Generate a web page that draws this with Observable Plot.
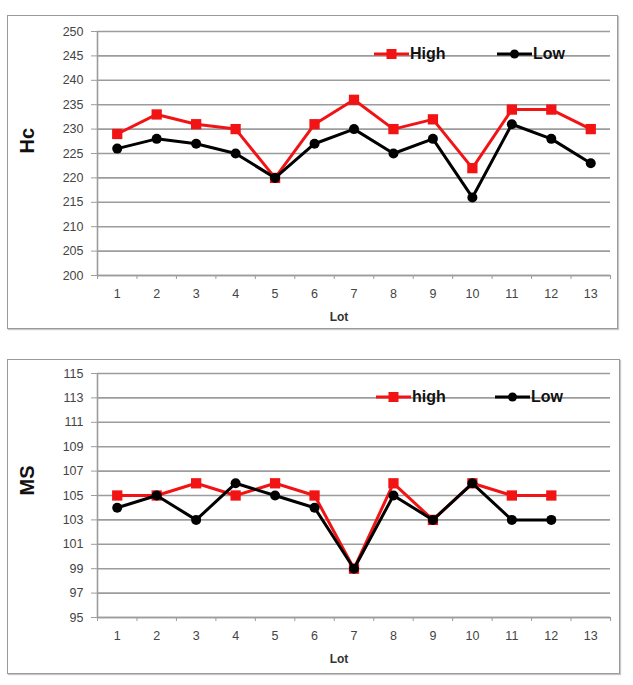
<!DOCTYPE html>
<html>
<head>
<meta charset="utf-8">
<script src="https://cdn.jsdelivr.net/npm/d3@7"></script>
<script src="https://cdn.jsdelivr.net/npm/@observablehq/plot@0.6"></script>
<style>
  html, body { margin: 0; padding: 0; background: #fff; }
  #page { position: relative; width: 633px; height: 685px; overflow: hidden; background: #fff; font-family: "Liberation Sans", Arial, sans-serif; }
  .frame { position: absolute; border: 1.5px solid #9a9a9a; box-shadow: 1px 1px 1px #c8c8c8; box-sizing: border-box; }
  .chart { position: absolute; left: 0; }
  .leg { position: absolute; display: flex; align-items: center; font-weight: bold; font-size: 16px; color: #111; }
  .leg svg { display: block; }
</style>
</head>
<body>
<div id="page"></div>
<script>
// ---- data ----
const lotLabels = [1, 2, 3, 4, 5, 6, 7, 8, 9, 10, 11, 12, 13];

const hcLots = [1, 2, 3, 4, 5, 6, 7, 8, 9, 10, 11, 12, 13];
const hcHigh = [229, 233, 231, 230, 220, 231, 236, 230, 232, 222, 234, 234, 230];
const hcLow  = [226, 228, 227, 225, 220, 227, 230, 225, 228, 216, 231, 228, 223];
const hcTicks = [200, 205, 210, 215, 220, 225, 230, 235, 240, 245, 250];

const msLots = [1, 2, 3, 4, 5, 6, 7, 8, 9, 10, 11, 12];
const msHigh = [105, 105, 106, 105, 106, 105, 99, 106, 103, 106, 105, 105];
const msLow  = [104, 105, 103, 106, 105, 104, 99, 105, 103, 106, 103, 103];
const msTicks = [95, 97, 99, 101, 103, 105, 107, 109, 111, 113, 115];

const seriesNames = {hc: ["High", "Low"], ms: ["high", "Low"]};
const RED = "#f21414";
const BLACK = "#000000";
const GRID = "#9c9c9c";

const page = document.getElementById("page");

function makeChart({lots, high, low, ticks, yLabel}) {
  const boundaries = d3.range(0.5, lotLabels.length + 1, 1);
  const hi = lots.map((l, i) => ({lot: l, v: high[i]}));
  const lo = lots.map((l, i) => ({lot: l, v: low[i]}));
  return Plot.plot({
    width: 633,
    height: 342,
    marginLeft: 97,
    marginRight: 23,
    marginTop: 31,
    marginBottom: 67,
    style: {background: "transparent", fontFamily: "'Liberation Sans', Arial, sans-serif"},
    x: {type: "linear", domain: [0.5, lotLabels.length + 0.5]},
    y: {type: "linear", domain: [ticks[0], ticks[ticks.length - 1]]},
    marks: [
      Plot.gridY(ticks, {stroke: GRID, strokeOpacity: 1, strokeWidth: 1.6}),
      Plot.axisY(ticks, {tickSize: 6, tickPadding: 8, fontSize: 12.5, color: "#444", stroke: GRID, label: null}),
      Plot.axisX(boundaries, {tickSize: 4, tickFormat: () => "", stroke: GRID, label: null}),
      Plot.axisX(lotLabels, {tickSize: 0, tickPadding: 14, fontSize: 12.5, color: "#444", label: null}),
      Plot.ruleX([0.5], {stroke: GRID, strokeWidth: 1.6}),
      Plot.ruleY([ticks[0]], {stroke: GRID, strokeWidth: 1.6}),
      Plot.text(["Lot"], {frameAnchor: "bottom", dy: 45, dx: -15, fontSize: 12, fontWeight: "bold", fill: "#333"}),
      Plot.text([yLabel], {frameAnchor: "left", rotate: -90, dx: -70, fontSize: 20, fontWeight: "bold", fill: "#111"}),
      Plot.line(hi, {x: "lot", y: "v", stroke: RED, strokeWidth: 3}),
      Plot.dot(hi, {x: "lot", y: "v", symbol: "square", r: 5.8, fill: RED, stroke: "none"}),
      Plot.line(lo, {x: "lot", y: "v", stroke: BLACK, strokeWidth: 3}),
      Plot.dot(lo, {x: "lot", y: "v", symbol: "circle", r: 5, fill: BLACK, stroke: "none"})
    ]
  });
}

function addFrame(left, top, right, bottom) {
  const f = document.createElement("div");
  f.className = "frame";
  f.style.left = left + "px";
  f.style.top = top + "px";
  f.style.width = (right - left) + "px";
  f.style.height = (bottom - top) + "px";
  page.appendChild(f);
}

function addLegendItem(x, y, color, marker, label) {
  const d = document.createElement("div");
  d.className = "leg";
  d.style.left = x + "px";
  d.style.top = (y - 10) + "px";
  d.style.height = "20px";
  const ns = "http://www.w3.org/2000/svg";
  const s = document.createElementNS(ns, "svg");
  s.setAttribute("width", 35); s.setAttribute("height", 20);
  const ln = document.createElementNS(ns, "line");
  ln.setAttribute("x1", 0); ln.setAttribute("x2", 35); ln.setAttribute("y1", 10); ln.setAttribute("y2", 10);
  ln.setAttribute("stroke", color); ln.setAttribute("stroke-width", 3);
  s.appendChild(ln);
  let m;
  if (marker === "square") {
    m = document.createElementNS(ns, "rect");
    m.setAttribute("x", 17.5 - 5); m.setAttribute("y", 5); m.setAttribute("width", 10); m.setAttribute("height", 10);
  } else {
    m = document.createElementNS(ns, "circle");
    m.setAttribute("cx", 17.5); m.setAttribute("cy", 10); m.setAttribute("r", 4.5);
  }
  m.setAttribute("fill", color);
  s.appendChild(m);
  d.appendChild(s);
  const t = document.createElement("span");
  t.textContent = label;
  t.style.marginLeft = "1px";
  d.appendChild(t);
  page.appendChild(d);
}

// frames
addFrame(7, 15, 618, 329);
addFrame(7, 359, 620, 674);

// charts
const c1 = makeChart({lots: hcLots, high: hcHigh, low: hcLow, ticks: hcTicks, yLabel: "Hc"});
c1.classList.add("chart"); c1.style.top = "0px";
page.appendChild(c1);

const c2 = makeChart({lots: msLots, high: msHigh, low: msLow, ticks: msTicks, yLabel: "MS"});
c2.classList.add("chart"); c2.style.top = "342px";
page.appendChild(c2);

// legends
addLegendItem(374, 54, RED, "square", seriesNames.hc[0]);
addLegendItem(497, 54, BLACK, "circle", seriesNames.hc[1]);
addLegendItem(376, 397, RED, "square", seriesNames.ms[0]);
addLegendItem(495, 397, BLACK, "circle", seriesNames.ms[1]);
</script>
</body>
</html>
